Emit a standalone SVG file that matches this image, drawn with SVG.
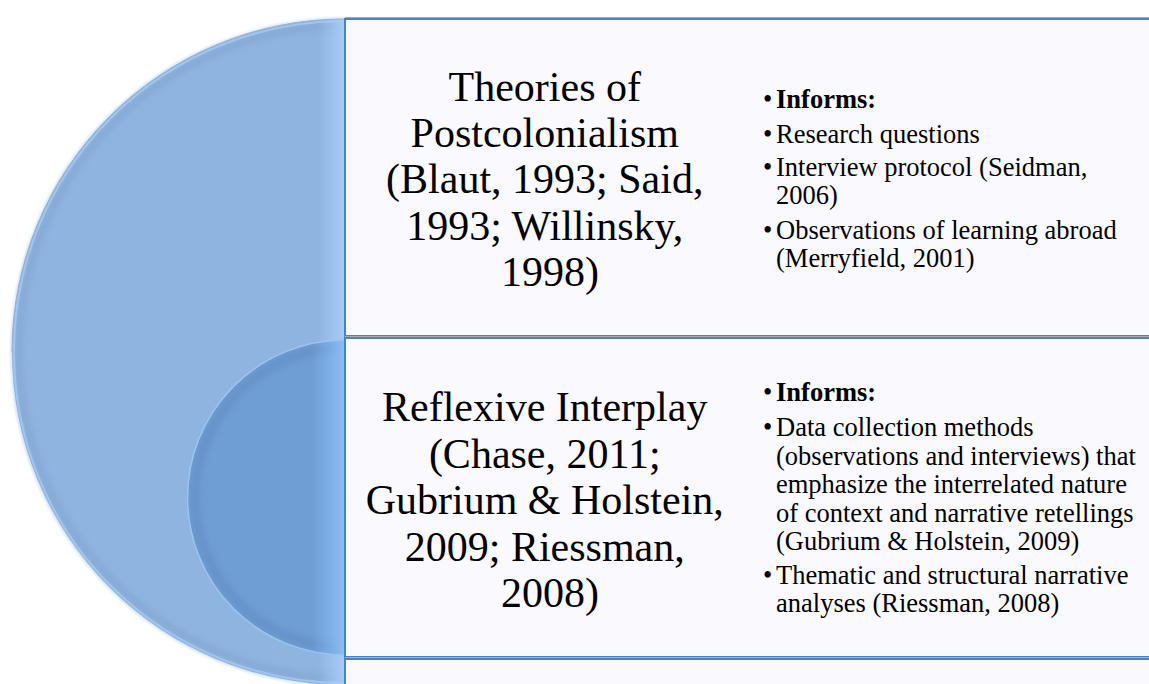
<svg xmlns="http://www.w3.org/2000/svg" width="1149" height="684" viewBox="0 0 1149 684">
  <defs>
    <style>
      .title { font-family: "Liberation Serif", "Times New Roman", serif; font-size: 42px; fill: #000; text-anchor: middle; }
      .item { font-family: "Liberation Serif", "Times New Roman", serif; font-size: 26.5px; fill: #000; }
      .bold { font-weight: bold; }
      .panel { fill: #F9F9FE; stroke: #4F81BD; stroke-width: 2; }
      .panelShadow { stroke: #A3ACB8; stroke-width: 1; fill: none; }
    </style>
    <!-- clip regions for the two half discs -->
    <clipPath id="outerClip">
      <path d="M345,19 A333,333 0 0 0 345,685 Z"/>
    </clipPath>
    <clipPath id="innerClip">
      <path d="M345,340 A157.5,157.5 0 0 0 345,655 Z"/>
    </clipPath>
    <!-- light sheen toward the flat right edge -->
    <linearGradient id="outerSheen" x1="318" y1="0" x2="345" y2="0" gradientUnits="userSpaceOnUse">
      <stop offset="0" stop-color="#A6CDF8" stop-opacity="0"/>
      <stop offset="1" stop-color="#A6CDF8" stop-opacity="1"/>
    </linearGradient>
    <linearGradient id="innerSheen" x1="312" y1="0" x2="345" y2="0" gradientUnits="userSpaceOnUse">
      <stop offset="0" stop-color="#8BBDF7" stop-opacity="0"/>
      <stop offset="1" stop-color="#8BBDF7" stop-opacity="1"/>
    </linearGradient>
    <filter id="soft" x="-10%" y="-10%" width="120%" height="120%">
      <feGaussianBlur stdDeviation="2.5"/>
    </filter>
    <filter id="glow" x="-10%" y="-10%" width="120%" height="120%">
      <feGaussianBlur stdDeviation="1.2"/>
    </filter>
  </defs>

  <rect width="1149" height="684" fill="#FFFFFF"/>

  <!-- outer half disc -->
  <g id="outer-ring">
    <path d="M345,19 A333,333 0 0 0 345,685" fill="none" stroke="#D6E8FC" stroke-width="4" filter="url(#glow)"/>
    <path d="M345,19 A333,333 0 0 0 345,685 Z" fill="#8FB4DF"/>
    <g clip-path="url(#outerClip)">
      <circle cx="345" cy="352" r="326" fill="none" stroke="#7C9FCB" stroke-width="8" opacity="0.4" filter="url(#soft)"/>
      <circle cx="345" cy="352" r="331" fill="none" stroke="#A8CBF3" stroke-width="2" opacity="0.8"/>
      <rect x="318" y="0" width="27" height="684" fill="url(#outerSheen)"/>
    </g>
    <path d="M345,19 A333,333 0 0 0 12,352" fill="none" stroke="#9DB1C9" stroke-width="1"/>
  </g>

  <!-- inner half disc -->
  <g id="inner-ring">
    <path d="M345,340 A157.5,157.5 0 0 0 345,655 Z" fill="#6F9ED4"/>
    <g clip-path="url(#innerClip)">
      <circle cx="345" cy="497.5" r="150" fill="none" stroke="#5F88BE" stroke-width="10" opacity="0.45" filter="url(#soft)"/>
      <rect x="312" y="330" width="33" height="340" fill="url(#innerSheen)"/>
    </g>
    <path d="M345,340 A157.5,157.5 0 0 0 345,655" fill="none" stroke="#9CC4F0" stroke-width="1.5"/>
  </g>

  <!-- first panel -->
  <g id="panel-postcolonialism">
    <rect class="panel" x="345" y="19" width="820" height="317"/>
    <line class="panelShadow" x1="345" y1="17.5" x2="1149" y2="17.5"/>
    <text class="title">
      <tspan x="550" y="101">Theories of</tspan>
      <tspan x="550" y="147">Postcolonialism</tspan>
      <tspan x="550" y="193">(Blaut, 1993; Said,</tspan>
      <tspan x="550" y="239.5">1993; Willinsky,</tspan>
      <tspan x="550" y="286">1998)</tspan>
    </text>
    <text class="item">
      <tspan x="763" y="108">•</tspan><tspan x="776" y="108" class="bold">Informs:</tspan>
      <tspan x="763" y="143">•</tspan><tspan x="776" y="143">Research questions</tspan>
      <tspan x="763" y="175.5">•</tspan><tspan x="776" y="175.5">Interview protocol (Seidman,</tspan>
      <tspan x="776" y="203.5">2006)</tspan>
      <tspan x="763" y="239">•</tspan><tspan x="776" y="239">Observations of learning abroad</tspan>
      <tspan x="776" y="267">(Merryfield, 2001)</tspan>
    </text>
  </g>

  <!-- second panel -->
  <g id="panel-reflexive-interplay">
    <rect class="panel" x="345" y="338" width="820" height="319"/>
    <line class="panelShadow" x1="345" y1="336.5" x2="1149" y2="336.5"/>
    <text class="title">
      <tspan x="550" y="421">Reflexive Interplay</tspan>
      <tspan x="550" y="467.5">(Chase, 2011;</tspan>
      <tspan x="550" y="514">Gubrium &amp; Holstein,</tspan>
      <tspan x="550" y="560.5">2009; Riessman,</tspan>
      <tspan x="550" y="606.5">2008)</tspan>
    </text>
    <text class="item">
      <tspan x="763" y="400.5">•</tspan><tspan x="776" y="400.5" class="bold">Informs:</tspan>
      <tspan x="763" y="436">•</tspan><tspan x="776" y="436">Data collection methods</tspan>
      <tspan x="776" y="464.5">(observations and interviews) that</tspan>
      <tspan x="776" y="493">emphasize the interrelated nature</tspan>
      <tspan x="776" y="521.5">of context and narrative retellings</tspan>
      <tspan x="776" y="550">(Gubrium &amp; Holstein, 2009)</tspan>
      <tspan x="763" y="583.5">•</tspan><tspan x="776" y="583.5">Thematic and structural narrative</tspan>
      <tspan x="776" y="612">analyses (Riessman, 2008)</tspan>
    </text>
  </g>

  <!-- third panel, cut off at the bottom edge -->
  <g id="panel-third">
    <rect class="panel" x="345" y="659" width="820" height="319"/>
    <line class="panelShadow" x1="345" y1="657.5" x2="1149" y2="657.5"/>
  </g>
</svg>
